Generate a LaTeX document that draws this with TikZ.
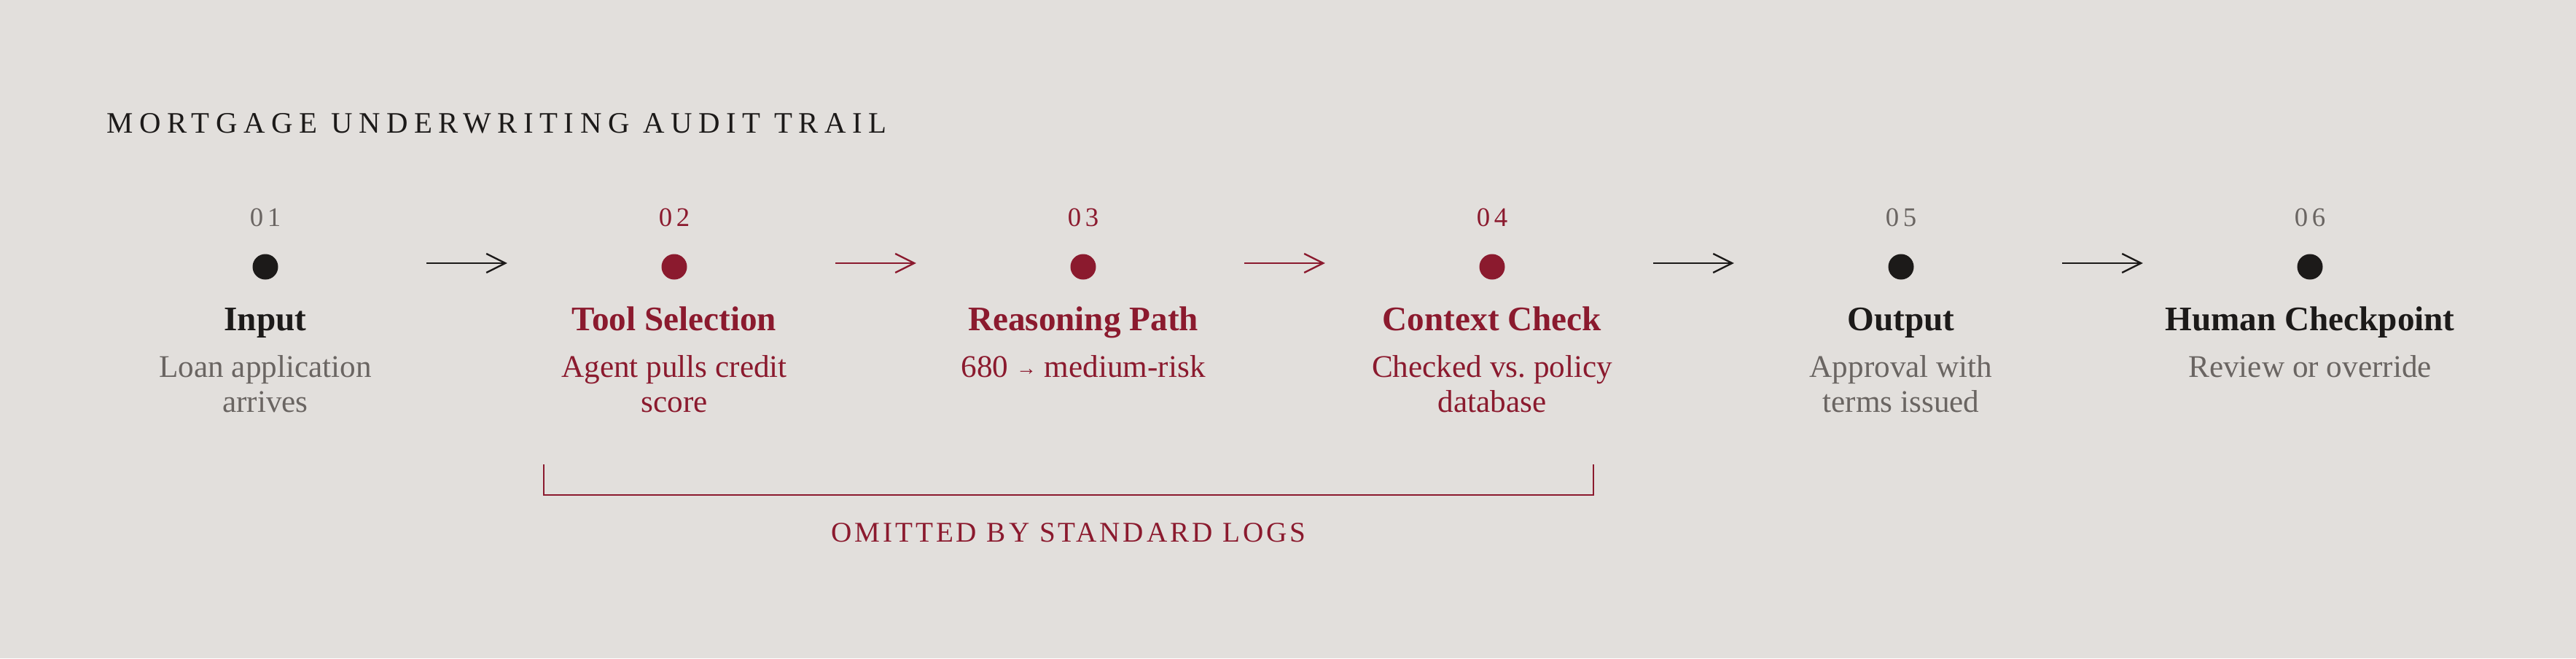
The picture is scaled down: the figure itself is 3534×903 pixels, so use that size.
\documentclass[tikz,border=0pt]{standalone}
\usepackage{fontspec}
\setmainfont{Liberation Serif}
\newfontfamily\headfont[LetterSpace=21]{Liberation Serif}
\newfontfamily\capsfont[LetterSpace=10]{Liberation Serif}
\newfontfamily\numfont[LetterSpace=15]{Liberation Serif}
\usepackage{tikz}
\usetikzlibrary{positioning, calc, arrows.meta}

\definecolor{paper}{HTML}{E2DFDC}
\definecolor{ink}{HTML}{1C1A19}
\definecolor{wine}{HTML}{8B1A2E}
\definecolor{stone}{HTML}{6A6562}

\newcommand{\smallto}{\raisebox{0.6pt}{\fontsize{7}{8}\selectfont →}}

\begin{document}
\begin{tikzpicture}[x=0.25pt, y=-0.25pt,
node distance = 131.5pt,
stepdot/.style = {circle, fill=#1, minimum size=8.75pt, inner sep=0pt,
	outer sep=0pt},
stepnum/.style = {anchor=base, inner sep=0pt, text=#1,
	font=\numfont\fontsize{9.2}{11}\selectfont},
steptitle/.style = {anchor=base, inner sep=0pt, text=#1,
	font=\bfseries\fontsize{11.8}{14}\selectfont},
stepnote/.style = {anchor=base, inner sep=0pt, align=center, text=#1,
	font=\fontsize{10.8}{12}\selectfont},
stepflow/.style = {draw=#1, line width=0.6pt,
	-{Straight Barb[length=6.5pt, width=6.5pt]},
	shorten <=50.9pt, shorten >=52.9pt},
capslabel/.style = {anchor=base, inner sep=0pt, text=wine,
	font=\capsfont\fontsize{9.8}{12}\selectfont}
]
\fill[paper] (0,0) rectangle (3534,903);

% Heading
\node[anchor=base west, inner sep=0pt, text=ink,
font=\headfont\fontsize{10.2}{12}\selectfont] (title) at (146,182)
{MORTGAGE UNDERWRITING AUDIT TRAIL};

% Draw the step dots
\node[stepdot=ink] (D-1) at (364,366) {};
\foreach \i/\c [count=\j from 1] in {2/wine,3/wine,4/wine,5/ink,6/ink}
\node[stepdot=\c, right=of D-\j] (D-\i) {};

% Number, title and note of every step (\n = lines in the note)
\foreach \i/\cm/\cd/\t/\n/\d in {
	1/ink/stone/Input/2/{Loan application\\arrives},
	2/wine/wine/Tool Selection/2/{Agent pulls credit\\score},
	3/wine/wine/Reasoning Path/1/{680 \smallto{} medium-risk},
	4/wine/wine/Context Check/2/{Checked vs.\ policy\\database},
	5/ink/stone/Output/2/{Approval with\\terms issued},
	6/ink/stone/Human Checkpoint/1/{Review or override}}
{
	\node[stepnum=\cd] (N-\i) at ([yshift=14pt]D-\i.center) {0\i};
	\node[steptitle=\cm] (T-\i) at ([yshift=-21.75pt]D-\i.center) {\t};
	\node[stepnote=\cd] (S-\i) at ([yshift={-25.75pt-\n*12pt}]D-\i.center) {\d};
}

% Arrows between the steps
\foreach \i/\c [count=\j from 2] in {1/ink,2/wine,3/wine,4/ink,5/ink}
\draw[stepflow=\c] ([yshift=1.25pt]D-\i.east) -- ([yshift=1.25pt]D-\j.west);

% Bracket under steps 02 to 04
\coordinate (B-L) at (746,637);
\coordinate (B-R) at (2186,637);
\draw[wine, line width=0.7pt] (B-L) -- ++(0,42) -| (B-R);
\node[capslabel] (omit) at (1466,743) {OMITTED BY STANDARD LOGS};
\end{tikzpicture}
\end{document}
